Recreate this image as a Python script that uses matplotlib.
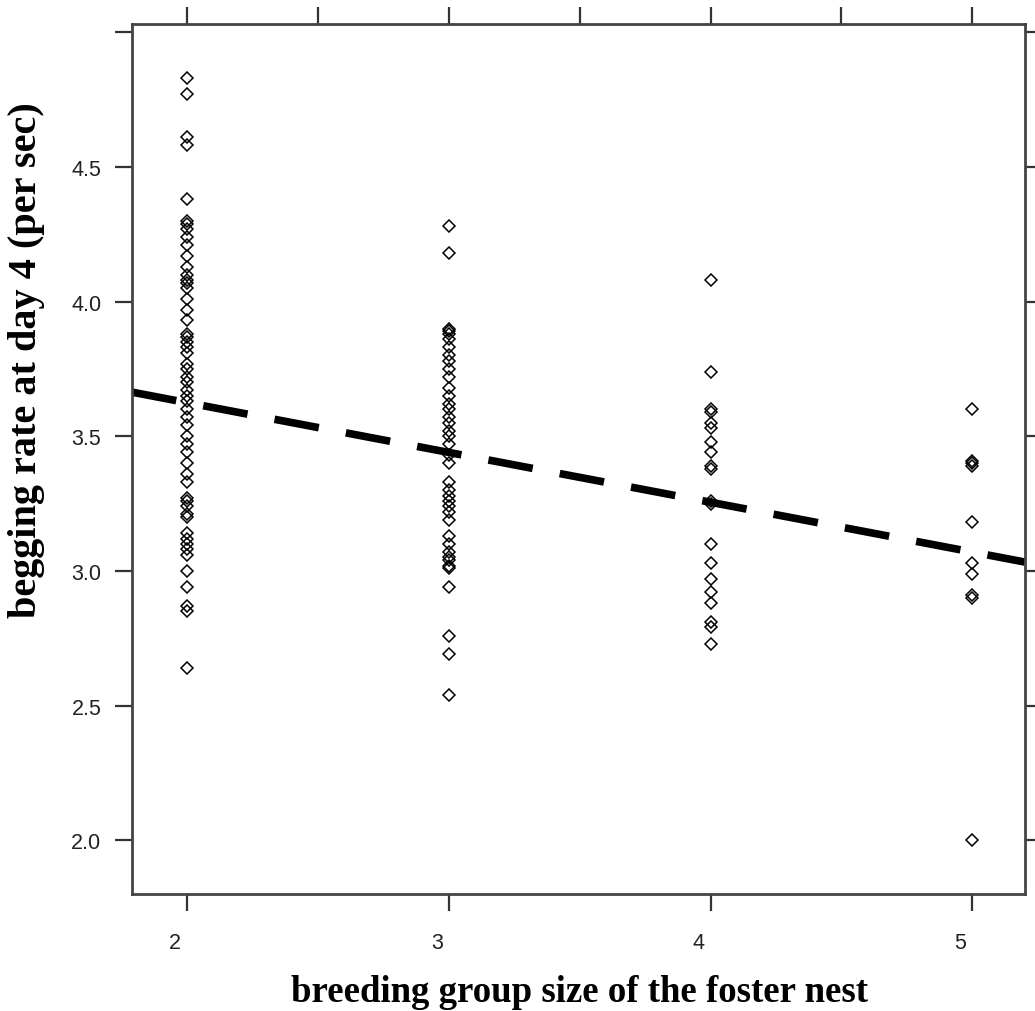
import matplotlib
matplotlib.use("Agg")
import matplotlib.pyplot as plt
import matplotlib.transforms as mtransforms
import numpy as np

group2 = [4.83, 4.77, 4.61, 4.58, 4.38, 4.30, 4.29, 4.27, 4.24, 4.21, 4.17, 4.13, 4.10,
          4.08, 4.07, 4.05, 4.01, 3.97, 3.93, 3.88, 3.87, 3.85, 3.83, 3.81, 3.77, 3.75,
          3.72, 3.70, 3.67, 3.65, 3.63, 3.60, 3.57, 3.54, 3.50, 3.47, 3.44, 3.40, 3.36,
          3.33, 3.27, 3.26, 3.24, 3.21, 3.20, 3.14, 3.12, 3.10, 3.08, 3.06, 3.00, 2.94,
          2.87, 2.85, 2.64]
group3 = [4.28, 4.18, 3.90, 3.89, 3.88, 3.86, 3.83, 3.80, 3.78, 3.75, 3.72, 3.68, 3.65,
          3.62, 3.60, 3.57, 3.55, 3.52, 3.50, 3.47, 3.43, 3.40, 3.33, 3.30, 3.28, 3.26,
          3.24, 3.22, 3.19, 3.13, 3.10, 3.07, 3.05, 3.04, 3.02, 3.01, 2.94, 2.76, 2.69,
          2.54]
group4 = [4.08, 3.74, 3.60, 3.59, 3.55, 3.53, 3.48, 3.44, 3.39, 3.38, 3.26, 3.25, 3.10,
          3.03, 2.97, 2.92, 2.88, 2.81, 2.79, 2.73]
group5 = [3.60, 3.41, 3.40, 3.39, 3.18, 3.03, 2.99, 2.91, 2.90, 2.00]
group_sizes = [2, 3, 4, 5]

fit_intercept = 3.995
fit_slope = -0.185

x_ticks_bottom = [2, 3, 4, 5]
x_ticks_top = [2, 2.5, 3, 3.5, 4, 4.5, 5]
y_ticks = [2.0, 2.5, 3.0, 3.5, 4.0, 4.5, 5.0]
y_labels = ["2.0", "2.5", "3.0", "3.5", "4.0", "4.5", ""]

fig = plt.figure(figsize=(10.35, 10.12), dpi=100)
ax = fig.add_axes([0.1275, 0.1156, 0.8625, 0.8594])

for gs, vals in zip(group_sizes, [group2, group3, group4, group5]):
    ax.plot([gs] * len(vals), vals, linestyle="none", marker="D", markersize=6.3,
            markerfacecolor="none", markeredgecolor="black", markeredgewidth=1.1)

xl = (1.79, 5.2)
xs = np.array(xl)
ax.plot(xs, fit_intercept + fit_slope * xs, color="black", linewidth=5.5,
        dashes=(5.9, 3.6), solid_capstyle="butt", dash_capstyle="butt")

ax.set_xlim(*xl)
ax.set_ylim(1.80, 5.03)

ax.set_xticks(x_ticks_bottom)
ax.set_xticklabels([str(v) for v in x_ticks_bottom], fontsize=15.5, color="#222222",
                   family="Liberation Sans")
ax.set_yticks(y_ticks)
ax.set_yticklabels(y_labels, fontsize=15.5, color="#222222", family="Liberation Sans")
ax.tick_params(axis="x", direction="out", length=12, width=1.6, color="#333333", pad=15)
ax.tick_params(axis="y", direction="out", length=12, width=1.6, color="#333333", pad=10)

shift = mtransforms.ScaledTranslation(-12 / 100, 0, fig.dpi_scale_trans)
for lab in ax.get_xticklabels():
    lab.set_transform(lab.get_transform() + shift)

axt = ax.secondary_xaxis("top")
axt.set_xticks(x_ticks_top)
axt.set_xticklabels([])
axt.tick_params(direction="out", length=12, width=1.6, color="#333333")
axt.spines["top"].set_visible(False)

axr = ax.secondary_yaxis("right")
axr.set_yticks(y_ticks)
axr.set_yticklabels([])
axr.tick_params(direction="out", length=12, width=1.6, color="#333333")
axr.spines["right"].set_visible(False)

for s in ax.spines.values():
    s.set_linewidth(2)
    s.set_color("#444444")

ax.set_xlabel("breeding group size of the foster nest", fontsize=26.5, fontweight="bold",
              family="Liberation Serif")
ax.set_ylabel("begging rate at day 4 (per sec)", fontsize=29, fontweight="bold",
              family="Liberation Serif")
ax.xaxis.set_label_coords(0.501, -0.092)
ax.yaxis.set_label_coords(-0.0974, 0.615)

fig.savefig("out.png", dpi=100)
